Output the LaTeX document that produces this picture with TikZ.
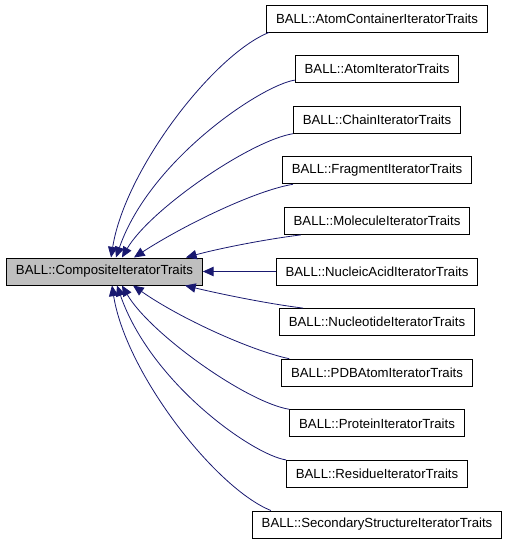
\documentclass[tikz,border=0pt]{standalone}
\usepackage{fontspec}
\setmainfont{Liberation Sans}
\usetikzlibrary{arrows.meta}
\definecolor{midnightblue}{HTML}{191970}

\begin{document}
\begin{tikzpicture}[
x=0.75pt, y=0.75pt,
node distance=37.95pt,
cls/.style={rectangle, draw=black, line width=0.75pt, fill=white, minimum height=20.25pt, inner xsep=7pt, font=\fontsize{9.9}{12}\selectfont},
base/.style={cls, fill=black!25},
edge/.style={midnightblue, line width=0.6pt, -{Triangle[length=8pt,width=7pt]}}
]
\useasboundingbox (-104.5,271.5) rectangle (402.5,-272.5);
%Nodes
\node[base]     (comp)                                    {BALL::CompositeIteratorTraits};
\node[cls]      (nacid)    [right of=comp, xshift=166.45pt] {BALL::NucleicAcidIteratorTraits};
\node[cls]      (mol)      [above of=nacid]               {BALL::MoleculeIteratorTraits};
\node[cls]      (frag)     [above of=mol]                 {BALL::FragmentIteratorTraits};
\node[cls]      (chain)    [above of=frag]                {BALL::ChainIteratorTraits};
\node[cls]      (atom)     [above of=chain]               {BALL::AtomIteratorTraits};
\node[cls]      (acont)    [above of=atom]                {BALL::AtomContainerIteratorTraits};
\node[cls]      (nucl)     [below of=nacid]               {BALL::NucleotideIteratorTraits};
\node[cls]      (pdb)      [below of=nucl]                {BALL::PDBAtomIteratorTraits};
\node[cls]      (prot)     [below of=pdb]                 {BALL::ProteinIteratorTraits};
\node[cls]      (res)      [below of=prot]                {BALL::ResidueIteratorTraits};
\node[cls]      (sstruct)  [below of=res]                 {BALL::SecondaryStructureIteratorTraits};
%Lines
\draw[edge] ([xshift=2pt]acont.south west) .. controls +(-55,-22) and +(14,88) .. ([xshift=4.9pt]comp.north);
\draw[edge] ([yshift=2.25pt]atom.south west) .. controls +(-33,-5) and +(34,98) .. ([xshift=8.6pt]comp.north);
\draw[edge] (chain.south west) .. controls +(-43,-7) and +(28,48) .. ([xshift=13.1pt]comp.north);
\draw[edge] ([xshift=8.25pt]frag.south west) .. controls +(-37,-6) and +(51,33) .. ([xshift=22.1pt]comp.north);
\draw[edge] ([xshift=12.75pt]mol.south west) .. controls +(-40,-5) and +(29,8) .. ([xshift=61.1pt]comp.north);
\draw[edge] (nacid.west) -- (comp.east);
\draw[edge] ([xshift=18pt]nucl.north west) .. controls +(-40,5) and +(29,-7) .. ([xshift=60.4pt]comp.south);
\draw[edge] ([xshift=6pt]pdb.north west) .. controls +(-38,8) and +(47,-33) .. ([xshift=21.4pt]comp.south);
\draw[edge] (prot.north west) .. controls +(-43,7) and +(28,-48) .. ([xshift=13.1pt]comp.south);
\draw[edge] (res.north west) .. controls +(-33,5) and +(34,-98) .. ([xshift=9.4pt]comp.south);
\draw[edge] ([xshift=14.25pt]sstruct.north west) .. controls +(-55,22) and +(14,-88) .. ([xshift=5.6pt]comp.south);
\end{tikzpicture}
\end{document}
